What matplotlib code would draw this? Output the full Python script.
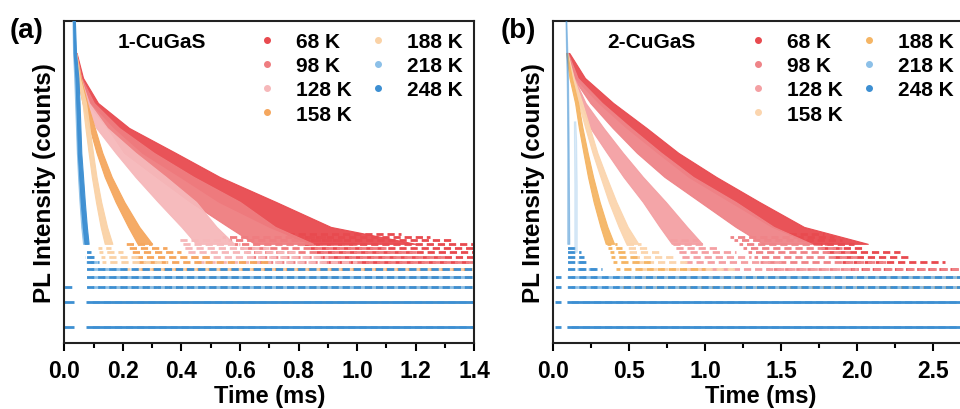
"""Temperature-dependent PL decay of 1-CuGaS and 2-CuGaS (two panels, log counts)."""
import matplotlib.pyplot as plt
from matplotlib.lines import Line2D
from matplotlib.ticker import MultipleLocator, NullLocator

plt.rcParams["font.family"] = ["Liberation Sans", "DejaVu Sans"]
plt.rcParams["font.weight"] = "bold"
plt.rcParams["axes.labelweight"] = "bold"

TEMPS = ["68 K", "98 K", "128 K", "158 K", "188 K", "218 K", "248 K"]
COLORS_A = ["#e84a4f", "#ef7d80", "#f6b8ba", "#f5a75e", "#fad2a6", "#8cc0e8", "#3d8fd2"]
COLORS_B = ["#e84a4f", "#ef8488", "#f4a0a3", "#fbd5ae", "#f5b564", "#8cc0e8", "#3d8fd2"]

# decay band: count level -> time span (ms) covered by the dots
LV = [2000, 1000, 500, 250, 125, 64, 32, 16, 10]
LV_BLUE = [4900, 2000, 1000, 500, 250, 125, 64, 32, 16, 10]

A_LEVELS = [LV, LV, LV, LV, LV, LV_BLUE, LV_BLUE]
A_LEFT = [
    [0.036, 0.055, 0.090, 0.170, 0.266, 0.396, 0.528, 0.700, 0.840],
    [0.035, 0.046, 0.078, 0.147, 0.204, 0.314, 0.430, 0.560, 0.650],
    [0.034, 0.042, 0.070, 0.109, 0.175, 0.243, 0.320, 0.400, 0.450],
    [0.035, 0.045, 0.062, 0.086, 0.110, 0.138, 0.175, 0.218, 0.250],
    [0.035, 0.045, 0.062, 0.072, 0.083, 0.094, 0.108, 0.124, 0.138],
    [0.028, 0.030, 0.034, 0.037, 0.040, 0.043, 0.047, 0.052, 0.058, 0.064],
    [0.030, 0.032, 0.038, 0.041, 0.044, 0.046, 0.051, 0.056, 0.063, 0.069],
]
A_RIGHT = [
    [0.042, 0.064, 0.115, 0.221, 0.380, 0.531, 0.723, 0.910, 1.200],
    [0.041, 0.058, 0.101, 0.187, 0.306, 0.442, 0.600, 0.720, 0.850],
    [0.040, 0.056, 0.084, 0.146, 0.243, 0.347, 0.450, 0.520, 0.580],
    [0.040, 0.056, 0.078, 0.104, 0.130, 0.162, 0.205, 0.256, 0.300],
    [0.040, 0.053, 0.074, 0.086, 0.098, 0.110, 0.126, 0.146, 0.164],
    [0.034, 0.037, 0.043, 0.047, 0.050, 0.054, 0.059, 0.065, 0.072, 0.078],
    [0.036, 0.040, 0.048, 0.052, 0.055, 0.058, 0.064, 0.070, 0.077, 0.083],
]
# quantised background rows: count level, first and last time (ms)
A_ROW_LV = [
    [4, 5, 6, 7, 8, 9, 10, 11, 12, 13],
    [4, 5, 6, 7, 8, 9, 10, 11, 12],
    [3, 4, 5, 6, 7, 8, 9, 10, 11],
    [3, 4, 5, 6, 7, 8, 9, 10],
    [2, 3, 4, 5, 6, 7, 8, 9],
    [1, 2, 3, 4, 5, 6, 7],
    [1, 2, 3, 4, 5, 6, 7, 8, 1, 2, 3],
]
A_ROW_T0 = [
    [0.95, 0.92, 0.90, 0.88, 0.86, 0.84, 0.82, 0.80, 0.78, 0.76],
    [0.70, 0.68, 0.66, 0.64, 0.62, 0.60, 0.58, 0.56, 0.54],
    [0.47, 0.46, 0.45, 0.44, 0.42, 0.41, 0.40, 0.39, 0.38],
    [0.28, 0.27, 0.26, 0.25, 0.24, 0.23, 0.22, 0.21],
    [0.16, 0.15, 0.14, 0.135, 0.13, 0.125, 0.12, 0.115],
    [0.08, 0.08, 0.08, 0.078, 0.076, 0.074, 0.072],
    [0.075, 0.075, 0.075, 0.075, 0.075, 0.075, 0.075, 0.075, 0.0, 0.0, 0.0],
]
A_ROW_T1 = [
    [1.4, 1.4, 1.4, 1.4, 1.4, 1.4, 1.4, 1.32, 1.25, 1.15],
    [1.4, 1.4, 1.4, 1.3, 1.2, 1.1, 1.0, 0.95, 0.9],
    [1.4, 1.4, 1.4, 1.0, 0.9, 0.8, 0.7, 0.6, 0.55],
    [1.4, 1.4, 1.4, 0.7, 0.5, 0.4, 0.35, 0.3],
    [1.4, 1.4, 1.4, 1.4, 0.35, 0.25, 0.2, 0.16],
    [1.4, 1.4, 1.4, 1.4, 0.2, 0.12, 0.1],
    [1.4, 1.4, 1.4, 1.4, 1.4, 0.12, 0.1, 0.09, 0.033, 0.033, 0.033],
]

B_LEVELS = [LV, LV, LV, LV, LV, [300, 170, 100, 50, 25, 12, 8], LV_BLUE]
B_LEFT = [
    [0.088, 0.142, 0.298, 0.482, 0.687, 0.891, 1.165, 1.440, 1.710],
    [0.088, 0.131, 0.243, 0.390, 0.550, 0.732, 0.966, 1.200, 1.380],
    [0.088, 0.120, 0.175, 0.243, 0.353, 0.462, 0.589, 0.700, 0.780],
    [0.084, 0.116, 0.165, 0.210, 0.258, 0.310, 0.365, 0.430, 0.480],
    [0.084, 0.106, 0.143, 0.168, 0.198, 0.228, 0.265, 0.310, 0.345],
    [0.135, 0.136, 0.137, 0.138, 0.138, 0.138, 0.138],
    [0.080, 0.084, 0.088, 0.090, 0.091, 0.092, 0.092, 0.092, 0.092, 0.092],
]
B_RIGHT = [
    [0.105, 0.208, 0.394, 0.613, 0.823, 1.073, 1.356, 1.650, 2.070],
    [0.095, 0.160, 0.320, 0.510, 0.710, 0.920, 1.200, 1.450, 1.700],
    [0.092, 0.136, 0.212, 0.330, 0.458, 0.590, 0.740, 0.880, 0.980],
    [0.092, 0.134, 0.190, 0.240, 0.290, 0.350, 0.415, 0.490, 0.560],
    [0.090, 0.122, 0.163, 0.192, 0.226, 0.262, 0.305, 0.356, 0.400],
    [0.145, 0.150, 0.152, 0.154, 0.154, 0.154, 0.154],
    [0.086, 0.092, 0.096, 0.098, 0.100, 0.101, 0.102, 0.103, 0.104, 0.105],
]
B_ROW_LV = [
    [4, 5, 6, 7, 8, 9, 10, 11, 12, 13],
    [4, 5, 6, 7, 8, 9, 10, 11, 12],
    [3, 4, 5, 6, 7, 8, 9, 10, 11],
    [3, 4, 5, 6, 7, 8, 9, 10],
    [3, 4, 5, 6, 7, 8, 9, 10],
    [1, 2, 3, 4, 5, 6],
    [1, 2, 3, 4, 5, 6, 7, 8, 9, 1, 2, 3, 4],
]
B_ROW_T0 = [
    [2.0, 1.95, 1.9, 1.85, 1.8, 1.76, 1.72, 1.66, 1.6, 1.55],
    [1.45, 1.4, 1.36, 1.32, 1.28, 1.25, 1.22, 1.19, 1.16],
    [0.9, 0.88, 0.86, 0.84, 0.82, 0.8, 0.78, 0.76, 0.74],
    [0.6, 0.58, 0.56, 0.54, 0.52, 0.5, 0.49, 0.48],
    [0.45, 0.43, 0.41, 0.39, 0.38, 0.37, 0.36, 0.35],
    [0.09, 0.09, 0.09, 0.09, 0.13, 0.13],
    [0.088, 0.088, 0.088, 0.088, 0.088, 0.088, 0.088, 0.088, 0.088, 0.01, 0.01, 0.01, 0.01],
]
B_ROW_T1 = [
    [2.7, 2.7, 2.58, 2.35, 2.28, 2.05, 1.98, 1.9, 1.85, 1.78],
    [2.7, 2.7, 2.2, 2.0, 1.95, 1.9, 1.8, 1.7, 1.6],
    [2.7, 2.7, 2.0, 1.5, 1.3, 1.2, 1.1, 1.0, 0.95],
    [2.7, 2.7, 1.2, 0.9, 0.8, 0.7, 0.62, 0.58],
    [2.7, 2.7, 1.0, 0.65, 0.55, 0.5, 0.45, 0.42],
    [2.7, 2.7, 2.7, 2.7, 0.3, 0.2],
    [2.7, 2.7, 2.7, 2.7, 0.32, 0.22, 0.2, 0.18, 0.16, 0.05, 0.05, 0.05, 0.05],
]


def draw_panel(ax, colors, levels, left, right, row_lv, row_t0, row_t1, alphas):
    for i, c in enumerate(colors):
        ax.fill_betweenx(levels[i], left[i], right[i], color=c, alpha=alphas[i],
                         lw=0.8, zorder=3)
    for i, c in enumerate(colors):
        for lv, t0, t1 in zip(row_lv[i], row_t0[i], row_t1[i]):
            if i == 6 and lv <= 2:
                ls = "-"
            else:
                ls = (i * 1.3, (2.6, 1.4))
            ax.hlines(lv, t0, t1, colors=c, lw=2.0, linestyles=[ls], zorder=2)
    ax.set_yscale("log")
    ax.set_ylim(0.63, 4900)
    ax.yaxis.set_major_locator(NullLocator())
    ax.yaxis.set_minor_locator(NullLocator())
    ax.tick_params(axis="y", which="both", left=False, labelleft=False)
    ax.tick_params(axis="x", which="major", direction="out", length=6, width=1.5,
                   labelsize=16.5, pad=5)
    ax.tick_params(axis="x", which="minor", direction="out", length=3.5, width=1.5)
    for s in ax.spines.values():
        s.set_linewidth(1.5)
        s.set_color("#222222")
    ax.set_xlabel("Time (ms)", fontsize=17, labelpad=2)
    ax.set_ylabel("PL Intensity (counts)", fontsize=17.5, labelpad=6)
    handles = [Line2D([], [], ls="", marker="o", ms=4, color=c) for c in colors]
    ax.legend(handles, TEMPS, ncol=2, loc="upper left", bbox_to_anchor=(0.469, 0.965),
              frameon=False, fontsize=15, handlelength=1.0, handletextpad=0.9,
              columnspacing=0.75, labelspacing=0.25, borderpad=0, borderaxespad=0)


fig = plt.figure(figsize=(9.6, 4.1), dpi=100)
ax_a = fig.add_axes([0.067, 0.160, 0.427, 0.787])
ax_b = fig.add_axes([0.5764, 0.160, 0.432, 0.787])

draw_panel(ax_a, COLORS_A, A_LEVELS, A_LEFT, A_RIGHT, A_ROW_LV, A_ROW_T0, A_ROW_T1,
           alphas=[0.95] * 7)
ax_a.set_xlim(0, 1.4)
ax_a.xaxis.set_major_locator(MultipleLocator(0.2))
ax_a.xaxis.set_minor_locator(MultipleLocator(0.1))
ax_a.text(0.131, 0.937, "1-CuGaS", transform=ax_a.transAxes, fontsize=15,
          ha="left", va="center")

draw_panel(ax_b, COLORS_B, B_LEVELS, B_LEFT, B_RIGHT, B_ROW_LV, B_ROW_T0, B_ROW_T1,
           alphas=[0.95] * 5 + [0.3, 0.45])
ax_b.set_xlim(0, 2.73)
ax_b.xaxis.set_major_locator(MultipleLocator(0.5))
ax_b.xaxis.set_minor_locator(MultipleLocator(0.25))
ax_b.text(0.131, 0.937, "2-CuGaS", transform=ax_b.transAxes, fontsize=15,
          ha="left", va="center")

fig.text(0.0104, 0.925, "(a)", fontsize=20, va="center", ha="left")
fig.text(0.521, 0.925, "(b)", fontsize=20, va="center", ha="left")

fig.savefig("out.png", dpi=100)
